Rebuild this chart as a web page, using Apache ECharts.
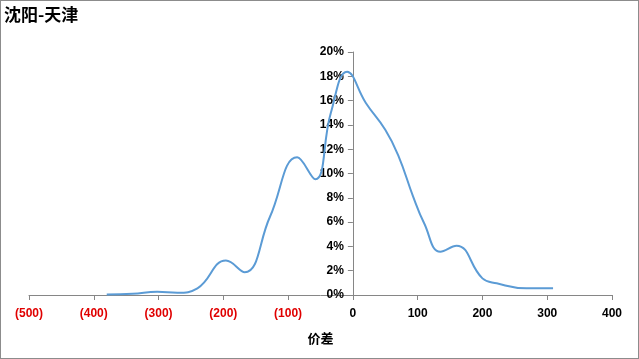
<!DOCTYPE html>
<html><head><meta charset="utf-8">
<script src="https://cdn.jsdelivr.net/npm/echarts@6/dist/echarts.min.js"></script>
<style>
html,body{margin:0;padding:0;background:#fff;}
#c{width:639px;height:359px;box-sizing:border-box;border:1px solid #8c8c8c;}
</style></head>
<body><div id="c"></div>
<script>
var title = "沈阳-天津";
var xName = "价差";
var priceDiff = [-380, -340, -302, -271, -240, -196, -167, -128, -86, -58, -34, -9, 20, 50, 70, 93, 110, 135, 160, 200, 222, 268, 309];
var share =     [0.05, 0.1, 0.27, 0.19, 0.55, 2.83, 1.87, 6.44, 11.33, 9.52, 15.0, 18.38, 15.8, 13.6, 11.5, 8.1, 5.9, 3.56, 4.06, 1.37, 0.96, 0.55, 0.55];
var xMin = -500, xMax = 400, xStep = 100;
var yMin = 0, yMax = 20, yStep = 2;

var pts = priceDiff.map(function(x, i){ return [x, share[i]]; });
var chart = echarts.init(document.getElementById('c'));
var font = '"Liberation Sans", Arial, sans-serif';
var gridLeft = 28;
function opt(yOffset){
  return {
  animation: false,
  title: {text: title, left: 3, top: 5, padding: 0,
    textStyle: {fontFamily: '"Noto Sans CJK SC", sans-serif', fontSize: 17, fontWeight: 'bold', color: '#000'}},
  grid: {left: gridLeft, right: 26, top: 51, bottom: 63, outerBoundsMode: 'none', containLabel: false},
  xAxis: {type: 'value', min: xMin, max: xMax, interval: xStep,
    name: xName, nameLocation: 'middle', nameGap: 37,
    nameTextStyle: {fontFamily: '"Noto Sans CJK SC", sans-serif', fontSize: 13, fontWeight: 'bold', color: '#000'},
    axisLine: {onZero: false, lineStyle: {color: '#868686', width: 1}},
    axisTick: {show: true, length: 5, lineStyle: {color: '#868686'}},
    splitLine: {show: false},
    axisLabel: {margin: 13, fontFamily: font, fontSize: 12, fontWeight: 'bold',
      formatter: function(v){ return v < 0 ? '{neg|(' + (-v) + ')}' : '{pos|' + v + '}'; },
      rich: {neg: {color: '#e00000', fontFamily: font, fontSize: 12, fontWeight: 'bold'},
             pos: {color: '#000', fontFamily: font, fontSize: 12, fontWeight: 'bold'}}}
  },
  yAxis: {type: 'value', min: yMin, max: yMax, interval: yStep, offset: yOffset,
    axisLine: {show: true, onZero: false, lineStyle: {color: '#868686', width: 1}},
    axisTick: {show: true, length: 5, lineStyle: {color: '#868686'}},
    splitLine: {show: false},
    axisLabel: {margin: 9, color: '#000', fontFamily: font, fontSize: 12, fontWeight: 'bold',
      formatter: function(v){ return v + '%'; }}
  },
  series: [{type: 'line', data: pts, smooth: 0.45, showSymbol: false,
    lineStyle: {color: '#5b9bd5', width: 2}}]
  };
}
chart.setOption(opt(0));
var zeroPx = chart.convertToPixel({xAxisIndex: 0}, 0);
var leftPx = chart.convertToPixel({xAxisIndex: 0}, xMin);
chart.setOption(opt(-(zeroPx - leftPx)));
</script></body></html>
